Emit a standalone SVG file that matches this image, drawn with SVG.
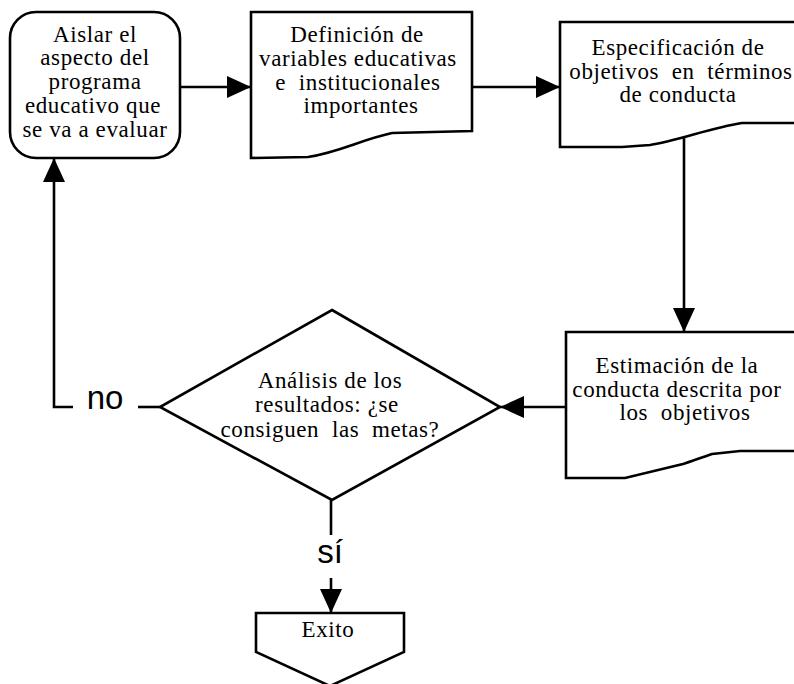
<svg xmlns="http://www.w3.org/2000/svg" width="794" height="684" viewBox="0 0 794 684">
  <style>
    .shape { fill: #ffffff; stroke: #000000; stroke-width: 2.6; stroke-linejoin: miter; }
    .line { fill: none; stroke: #000000; stroke-width: 2.6; }
    .label { font-family: "Liberation Serif", "Times New Roman", serif; font-size: 23px; letter-spacing: 0.6px; fill: #000000; text-anchor: middle; white-space: pre; }
    .branch { font-family: "Liberation Sans", Arial, sans-serif; font-size: 33px; fill: #000000; text-anchor: middle; }
  </style>
  <defs>
    <marker id="arrow" viewBox="0 0 24 22" refX="24" refY="11" markerWidth="24" markerHeight="22" markerUnits="userSpaceOnUse" orient="auto">
      <path d="M0,0 L24,11 L0,22 Z" fill="#000000"/>
    </marker>
  </defs>

  <!-- connectors -->
  <g id="connectors">
    <line class="line" x1="180" y1="87" x2="251" y2="87" marker-end="url(#arrow)"/>
    <line class="line" x1="472" y1="87" x2="560" y2="87" marker-end="url(#arrow)"/>
    <line class="line" x1="684" y1="138" x2="684" y2="332" marker-end="url(#arrow)"/>
    <line class="line" x1="566" y1="407" x2="500" y2="407" marker-end="url(#arrow)"/>
    <!-- "no" branch back to the start -->
    <line class="line" x1="160" y1="407" x2="138" y2="407"/>
    <polyline class="line" points="73,407 54,407 54,158" marker-end="url(#arrow)"/>
    <text class="branch" x="105" y="409">no</text>
    <!-- "sí" branch to the end -->
    <line class="line" x1="331" y1="500" x2="331" y2="535"/>
    <line class="line" x1="331" y1="578" x2="331" y2="613" marker-end="url(#arrow)"/>
    <text class="branch" x="330" y="563">sí</text>
  </g>

  <g id="aislar">
    <rect class="shape" x="10" y="12" width="170" height="146" rx="26" ry="26"/>
    <text class="label" x="95" y="42">Aislar el</text>
    <text class="label" x="95" y="65">aspecto del</text>
    <text class="label" x="95" y="89">programa</text>
    <text class="label" x="93" y="113">educativo que</text>
    <text class="label" x="95" y="137">se va a evaluar</text>
  </g>

  <g id="definicion">
    <path class="shape" d="M251,12 L472,12 L472,131 L392,133 C360,140 340,152 308,157 L251,158 Z"/>
    <text class="label" x="357" y="42">Definición de</text>
    <text class="label" x="358" y="66">variables educativas</text>
    <text class="label" x="358" y="90">e  institucionales</text>
    <text class="label" x="361" y="113">importantes</text>
  </g>

  <g id="especificacion">
    <path class="shape" d="M560,22 L800,22 L800,123 L742,123 C710,128 680,140 650,145 L622,147 L560,147 Z"/>
    <text class="label" x="678" y="55">Especificación de</text>
    <text class="label" x="681" y="79">objetivos  en  términos</text>
    <text class="label" x="678" y="102">de conducta</text>
  </g>

  <g id="estimacion">
    <path class="shape" d="M566,332 L800,332 L800,451 L740,451 L712,454 C700,458 690,462 683,464 L625,478 L566,478 Z"/>
    <text class="label" x="677" y="373">Estimación de la</text>
    <text class="label" x="677" y="397">conducta descrita por</text>
    <text class="label" x="685" y="420">los  objetivos</text>
  </g>

  <g id="analisis">
    <polygon class="shape" points="332,310 500,407 332,500 160,407"/>
    <text class="label" x="330" y="388">Análisis de los</text>
    <text class="label" x="327" y="412">resultados: ¿se</text>
    <text class="label" x="330" y="437">consiguen  las  metas?</text>
  </g>

  <g id="exito">
    <polygon class="shape" points="256,613 404,613 404,652 330,686 256,652"/>
    <text class="label" x="328" y="637">Exito</text>
  </g>
</svg>
